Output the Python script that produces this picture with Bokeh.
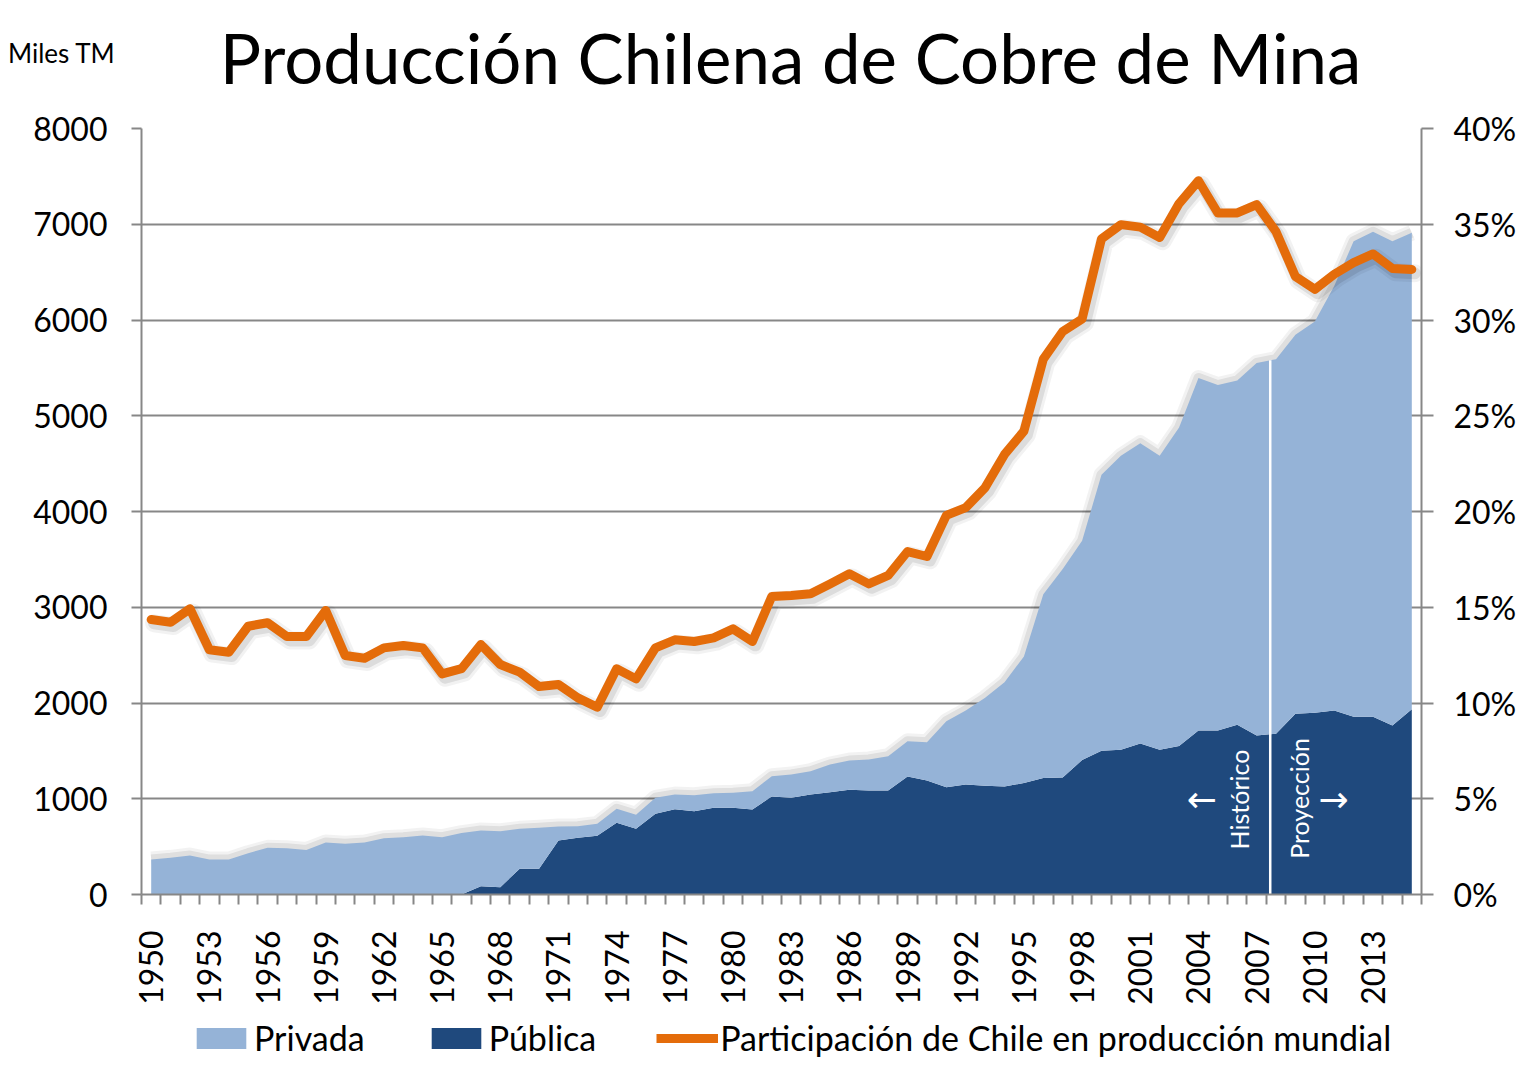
import numpy as np
from math import pi
from bokeh.plotting import figure
from bokeh.layouts import column
from bokeh.models import (Range1d, LinearAxis, FixedTicker, PrintfTickFormatter,
                          Legend, LegendItem, ColumnDataSource)
from bokeh.embed import file_html
from bokeh.resources import INLINE
from bokeh.core.properties import value

# ---------------- data ----------------
years = list(range(1950, 2016))

publica = [0, 0, 0, 0, 0, 0, 0, 0, 0, 0,
           0, 0, 0, 0, 0, 0, 0, 87, 77, 268,
           268, 564, 592, 613, 749, 686, 843, 891, 870, 905,
           907, 888, 1023, 1010, 1044, 1068, 1093, 1086, 1086, 1232,
           1190, 1121, 1149, 1135, 1128, 1165, 1218, 1222, 1404, 1502,
           1512, 1576, 1512, 1552, 1714, 1714, 1773, 1660, 1680, 1887,
           1897, 1921, 1857, 1857, 1764, 1936]

privada = [365, 383, 407, 365, 365, 432, 487, 484, 466, 543,
           529, 543, 588, 599, 616, 599, 641, 581, 584, 418,
           428, 146, 122, 125, 146, 146, 167, 153, 167, 153,
           155, 191, 213, 243, 244, 290, 306, 324, 358, 369,
           401, 689, 773, 919, 1090, 1320, 1917, 2177, 2291, 2882,
           3069, 3138, 3069, 3325, 3680, 3606, 3596, 3892, 3911, 3960,
           4088, 4434, 4966, 5064, 5059, 4975]

participacion = [14.36, 14.22, 14.92, 12.78, 12.65, 14.01, 14.19, 13.47, 13.47, 14.83,
                 12.48, 12.34, 12.88, 13.00, 12.88, 11.52, 11.79, 13.05, 12.01, 11.61,
                 10.86, 10.97, 10.27, 9.78, 11.79, 11.26, 12.88, 13.30, 13.21, 13.40,
                 13.87, 13.21, 15.56, 15.61, 15.70, 16.22, 16.75, 16.22, 16.66, 17.91,
                 17.65, 19.80, 20.20, 21.25, 22.98, 24.20, 27.96, 29.40, 30.05, 34.24,
                 34.98, 34.85, 34.31, 36.08, 37.27, 35.59, 35.59, 36.03, 34.61, 32.27,
                 31.60, 32.39, 33.00, 33.45, 32.69, 32.64]

tick_years = list(range(1950, 2016, 3))
left_ticks = list(range(0, 8001, 1000))
right_ticks = list(range(0, 41, 5))
split_year = 2007.7  # Histórico / Proyección

title_text = "Producción Chilena de Cobre de Mina"
unit_text = "Miles TM"
legend_labels = ["Privada", "Pública", "Participación de Chile en producción mundial"]

# ---------------- styling ----------------
LIGHT = "#95B3D7"
DARK = "#1F497D"
ORANGE = "#E46C0A"
GRID = "#878787"
FONT = "Lato"
W = 1519
BL, BR = 141, 96          # left / right borders (frame spans x 141..1423)

# ---------------- title strip ----------------
TOP_H = 108
pt = figure(width=W, height=TOP_H, x_range=Range1d(BL, W - BR), y_range=Range1d(0, TOP_H),
            output_backend="svg", toolbar_location=None,
            min_border_left=BL, min_border_right=BR, min_border_top=0, min_border_bottom=0,
            x_axis_type=None, y_axis_type=None)
pt.title_location = None
pt.outline_line_color = None
pt.grid.visible = False
pt.text(x=[791], y=[TOP_H - 57], text=[title_text], text_align="center",
        text_baseline="alphabetic", text_font=value(FONT), text_font_size="69px",
        text_color="black")
# unit label, drawn as the single tick label of a bare axis in the left border
unit_axis = LinearAxis(ticker=FixedTicker(ticks=[TOP_H - 52]),
                       major_label_overrides={TOP_H - 52: unit_text})
unit_axis.axis_line_color = None
unit_axis.major_tick_line_color = None
unit_axis.minor_tick_line_color = None
unit_axis.major_tick_out = 0
unit_axis.major_tick_in = 0
unit_axis.major_label_standoff = 26
unit_axis.major_label_text_font = FONT
unit_axis.major_label_text_font_size = "26px"
unit_axis.major_label_text_color = "black"
pt.add_layout(unit_axis, "left")

# ---------------- main chart ----------------
total = (np.array(publica) + np.array(privada)).tolist()
src = ColumnDataSource(dict(year=years, publica=publica, total=total, pct=participacion))

p = figure(width=W, height=904,
           x_range=Range1d(1949.5, 2015.5), y_range=Range1d(0, 8000),
           output_backend="svg", toolbar_location=None,
           min_border_left=BL, min_border_right=BR,
           min_border_top=20, min_border_bottom=118)
p.title_location = None
p.outline_line_color = None
p.xgrid.grid_line_color = None
p.ygrid.grid_line_color = GRID
p.ygrid.grid_line_width = 2

yax = p.yaxis[0]
yax.ticker = FixedTicker(ticks=left_ticks)
yax.axis_line_color = GRID
yax.axis_line_width = 2
yax.major_tick_line_color = GRID
yax.major_tick_line_width = 2
yax.major_tick_out = 10
yax.major_tick_in = 0
yax.minor_tick_line_color = None
yax.major_label_standoff = 24
yax.major_label_text_font = FONT
yax.major_label_text_font_size = "32px"
yax.major_label_text_color = "black"

xax = p.xaxis[0]
xax.ticker = FixedTicker(ticks=tick_years, minor_ticks=[y - 0.5 for y in years] + [years[-1] + 0.5])
xax.axis_line_color = GRID
xax.axis_line_width = 2
xax.major_tick_line_color = None
xax.major_tick_out = 0
xax.major_tick_in = 0
xax.minor_tick_line_color = GRID
xax.minor_tick_line_width = 2
xax.minor_tick_out = 10
xax.minor_tick_in = 0
xax.major_label_orientation = pi / 2
xax.major_label_standoff = 26
xax.major_label_text_font = FONT
xax.major_label_text_font_size = "32px"
xax.major_label_text_color = "black"

p.extra_y_ranges = {"pct": Range1d(0, 40)}
rax = LinearAxis(y_range_name="pct", ticker=FixedTicker(ticks=right_ticks),
                 formatter=PrintfTickFormatter(format="%d%%"))
rax.axis_line_color = GRID
rax.axis_line_width = 2
rax.major_tick_line_color = GRID
rax.major_tick_line_width = 2
rax.major_tick_out = 12
rax.major_tick_in = 0
rax.minor_tick_line_color = None
rax.major_label_standoff = 20
rax.major_label_text_font = FONT
rax.major_label_text_font_size = "32px"
rax.major_label_text_color = "black"
p.add_layout(rax, "right")

# soft shadow along the top of the stacked area
for w, a in ((16, 0.05), (10, 0.08)):
    p.line(x="year", y="total", source=src, line_color="black", line_alpha=a,
           line_width=w, line_join="round")
p.varea(x="year", y1=0, y2="publica", source=src, fill_color=DARK)
p.varea(x="year", y1="publica", y2="total", source=src, fill_color=LIGHT)

split_top = float(np.interp(split_year, years, total))
p.segment(x0=[split_year], y0=[0], x1=[split_year], y1=[split_top],
          line_color="white", line_width=2.5)

p.text(x=[2006.08, 2009.17], y=[992, 1003], text=["Histórico", "Proyección"],
       angle=pi / 2, text_align="center", text_baseline="middle",
       text_color="white", text_font=value(FONT), text_font_size="25px")
p.text(x=[2004.17, 2010.97], y=[992, 992], text=["←", "→"],
       text_align="center", text_baseline="middle",
       text_color="white", text_font=value("DejaVu Sans"), text_font_size="36px")

# soft shadow under the share line
shadow_x = (np.array(years) + 0.15).tolist()
shadow_y = (np.array(participacion) - 0.2).tolist()
for w, a in ((18, 0.05), (12, 0.09)):
    p.line(x=shadow_x, y=shadow_y, y_range_name="pct", line_color="black", line_alpha=a,
           line_width=w, line_join="round", line_cap="round")
p.line(x="year", y="pct", source=src, y_range_name="pct",
       line_color=ORANGE, line_width=9, line_join="round", line_cap="round")

# ---------------- legend strip ----------------
LEG_H = 46
pl = figure(width=W, height=LEG_H, x_range=Range1d(0, 1), y_range=Range1d(0, 1),
            output_backend="svg", toolbar_location=None,
            min_border_left=BL, min_border_right=BR, min_border_top=0, min_border_bottom=0,
            x_axis_type=None, y_axis_type=None)
pl.title_location = None
pl.outline_line_color = None
pl.grid.visible = False
# off-canvas sample data only so that the legend swatches get their styles
swatch = ColumnDataSource(dict(x=[5, 6], y1=[5, 5], y2=[6, 6]))
g_priv = pl.varea(x="x", y1="y1", y2="y2", source=swatch, fill_color=LIGHT)
g_pub = pl.varea(x="x", y1="y1", y2="y2", source=swatch, fill_color=DARK)
g_line = pl.line(x="x", y="y1", source=swatch, line_color=ORANGE, line_width=9)
legend = Legend(items=[LegendItem(label=legend_labels[0], renderers=[g_priv]),
                       LegendItem(label=legend_labels[1], renderers=[g_pub]),
                       LegendItem(label=legend_labels[2], renderers=[g_line])],
                orientation="horizontal", location=(190 - BL, 0),
                glyph_width=62, glyph_height=26, label_standoff=2, spacing=60,
                padding=0, margin=0, border_line_color=None, background_fill_alpha=0,
                label_text_font=FONT, label_text_font_size="34px", label_text_color="black")
pl.add_layout(legend)

layout = column(pt, p, pl, spacing=0)
open("out.html", "w").write(file_html(layout, INLINE))
